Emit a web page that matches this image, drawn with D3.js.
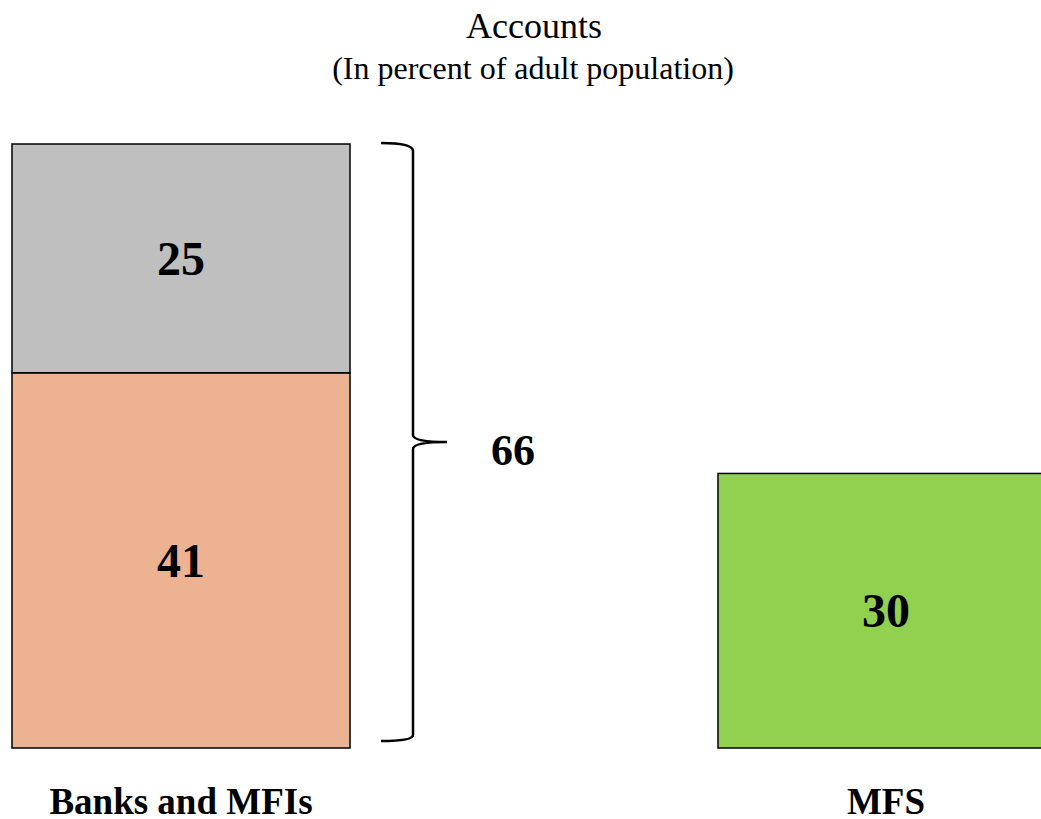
<!DOCTYPE html>
<html>
<head>
<meta charset="utf-8">
<script src="https://cdn.jsdelivr.net/npm/d3@7"></script>
<style>
  html, body { margin: 0; padding: 0; background: #fff; overflow: hidden; }
  svg { display: block; font-family: "Liberation Serif", "Times New Roman", serif; }
</style>
</head>
<body>
<svg id="chart" width="1041" height="819"></svg>
<script>
// Account ownership, percent of adult population
const categories = ["Banks and MFIs", "MFS"];
const bankSegments = [
  { name: "lower", value: 41, color: "#ecb292" },
  { name: "upper", value: 25, color: "#bfbfbf" }
];
const mfsValues = [30];
const mfsColor = "#92d050";
const bankTotal = 66;
const yDomain = [0, 66];

const svg = d3.select("#chart");

// Bars are 338px wide; the second bar runs past the right edge
const bw = 338;
const x = d3.scalePoint()
  .domain(categories)
  .range([12, 718]);

const y = d3.scaleLinear().domain(yDomain).range([748, 144]);

// Title
svg.append("text").attr("x", 534).attr("y", 38).attr("text-anchor", "middle")
  .attr("font-size", 36).text("Accounts");
svg.append("text").attr("x", 533).attr("y", 79).attr("text-anchor", "middle")
  .attr("font-size", 32).text("(In percent of adult population)");

// Stacked bar for banks and MFIs
const stacked = [];
let acc = 0;
bankSegments.forEach(s => { stacked.push({ ...s, y0: acc, y1: acc + s.value }); acc += s.value; });

const g1 = svg.append("g");
g1.selectAll("rect").data(stacked).enter().append("rect")
  .attr("x", x(categories[0]))
  .attr("width", bw)
  .attr("y", d => y(d.y1))
  .attr("height", d => y(d.y0) - y(d.y1))
  .attr("fill", d => d.color)
  .attr("stroke", "#000")
  .attr("stroke-width", 1.5);

g1.selectAll("text").data(stacked).enter().append("text")
  .attr("x", x(categories[0]) + bw / 2)
  .attr("y", d => (y(d.y0) + y(d.y1)) / 2 + 16.5)
  .attr("text-anchor", "middle")
  .attr("font-weight", "bold")
  .attr("font-size", 48)
  .text(d => d.value);

// MFS bar
const g2 = svg.append("g");
g2.selectAll("rect").data(mfsValues).enter().append("rect")
  .attr("x", x(categories[1]))
  .attr("width", bw)
  .attr("y", d => y(d))
  .attr("height", d => y(0) - y(d))
  .attr("fill", mfsColor)
  .attr("stroke", "#000")
  .attr("stroke-width", 1.5);
g2.selectAll("text").data(mfsValues).enter().append("text")
  .attr("x", x(categories[1]) + 168)
  .attr("y", d => (y(0) + y(d)) / 2 + 16.5)
  .attr("text-anchor", "middle")
  .attr("font-weight", "bold")
  .attr("font-size", 48)
  .text(d => d);

// Brace spanning the stacked total
const bTop = y(bankTotal) - 1, bBot = y(0) - 7, bMid = y(bankTotal / 2) - 4;
const bx0 = 381, bx1 = 413, bTip = 447;
const brace = d3.path();
brace.moveTo(bx0, bTop);
brace.quadraticCurveTo(bx1, bTop, bx1, bTop + 8);
brace.lineTo(bx1, bMid - 7);
brace.quadraticCurveTo(bx1, bMid, bTip, bMid);
brace.quadraticCurveTo(bx1, bMid, bx1, bMid + 7);
brace.lineTo(bx1, bBot - 6);
brace.quadraticCurveTo(bx1, bBot, bx0, bBot);
svg.append("path").attr("d", brace.toString())
  .attr("fill", "none").attr("stroke", "#000").attr("stroke-width", 2.5);

svg.append("text").attr("x", 513).attr("y", bMid + 23)
  .attr("text-anchor", "middle").attr("font-weight", "bold").attr("font-size", 44)
  .text(bankTotal);

// Category labels
svg.selectAll(".cat").data(categories).enter().append("text")
  .attr("class", "cat")
  .attr("x", d => d === "MFS" ? 886 : x(d) + bw / 2)
  .attr("y", 814)
  .attr("text-anchor", "middle")
  .attr("font-weight", "bold")
  .attr("font-size", 37)
  .text(d => d);
</script>
</body>
</html>
